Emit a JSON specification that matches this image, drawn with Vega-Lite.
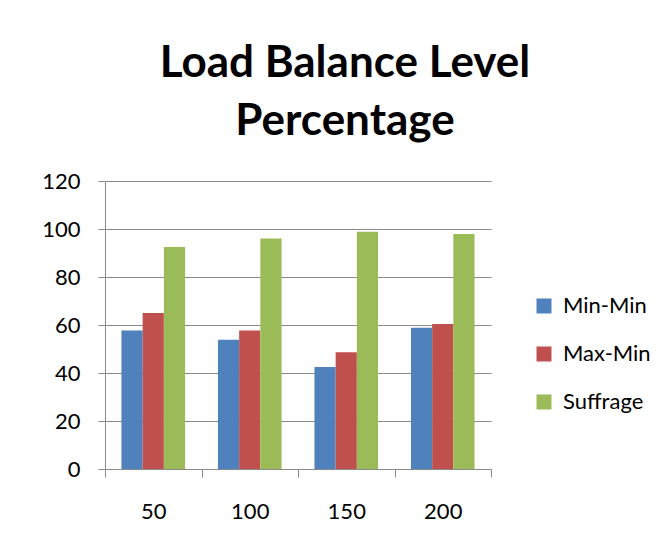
{
  "$schema": "https://vega.github.io/schema/vega-lite/v6.json",
  "width": 386,
  "height": 288,
  "autosize": "none",
  "padding": {"left": 105, "top": 181, "right": 177, "bottom": 81},
  "background": "white",
  "title": {
    "text": ["Load Balance Level", "Percentage"],
    "font": "Lato",
    "fontSize": 44,
    "fontWeight": "bold",
    "color": "#000000",
    "lineHeight": 58,
    "anchor": "middle",
    "dx": 47,
    "offset": 26
  },
  "data": {
    "values": [
      {"n": "50", "algo": "Min-Min", "v": 57.75},
      {"n": "50", "algo": "Max-Min", "v": 65},
      {"n": "50", "algo": "Suffrage", "v": 92.5},
      {"n": "100", "algo": "Min-Min", "v": 53.9},
      {"n": "100", "algo": "Max-Min", "v": 57.75},
      {"n": "100", "algo": "Suffrage", "v": 96},
      {"n": "150", "algo": "Min-Min", "v": 42.5},
      {"n": "150", "algo": "Max-Min", "v": 48.6},
      {"n": "150", "algo": "Suffrage", "v": 98.9},
      {"n": "200", "algo": "Min-Min", "v": 58.9},
      {"n": "200", "algo": "Max-Min", "v": 60.4},
      {"n": "200", "algo": "Suffrage", "v": 97.9}
    ]
  },
  "mark": {"type": "bar"},
  "encoding": {
    "x": {
      "field": "n",
      "type": "nominal",
      "sort": ["50", "100", "150", "200"],
      "scale": {"paddingInner": 0, "paddingOuter": 0},
      "axis": {
        "title": null,
        "labelAngle": 0,
        "tickBand": "extent",
        "tickSize": 8,
        "labelPadding": 24,
        "labelFont": "Lato",
        "labelFontSize": 22,
        "labelColor": "#000000",
        "domainColor": "#8A8A8A",
        "tickColor": "#8A8A8A",
        "grid": false
      }
    },
    "xOffset": {
      "field": "algo",
      "sort": ["Min-Min", "Max-Min", "Suffrage"],
      "scale": {"paddingInner": 0, "paddingOuter": 0.776}
    },
    "y": {
      "field": "v",
      "type": "quantitative",
      "scale": {"domain": [0, 120], "nice": false},
      "axis": {
        "title": null,
        "values": [0, 20, 40, 60, 80, 100, 120],
        "tickSize": 7,
        "labelPadding": 18,
        "labelFont": "Lato",
        "labelFontSize": 22,
        "labelColor": "#000000",
        "domainColor": "#8A8A8A",
        "tickColor": "#8A8A8A",
        "gridColor": "#8A8A8A",
        "grid": true
      }
    },
    "color": {
      "field": "algo",
      "type": "nominal",
      "sort": ["Min-Min", "Max-Min", "Suffrage"],
      "scale": {
        "domain": ["Min-Min", "Max-Min", "Suffrage"],
        "range": ["#4F81BD", "#C0504D", "#9BBB59"]
      },
      "legend": {
        "title": null,
        "orient": "none",
        "legendX": 428,
        "legendY": 114,
        "padding": 0,
        "symbolType": "square",
        "symbolSize": 225,
        "symbolStrokeWidth": 0,
        "labelOffset": 8,
        "labelFont": "Lato",
        "labelFontSize": 22,
        "labelColor": "#000000",
        "rowPadding": 26
      }
    }
  },
  "config": {
    "view": {"stroke": null},
    "axis": {"domainWidth": 1, "tickWidth": 1, "gridWidth": 1}
  }
}
